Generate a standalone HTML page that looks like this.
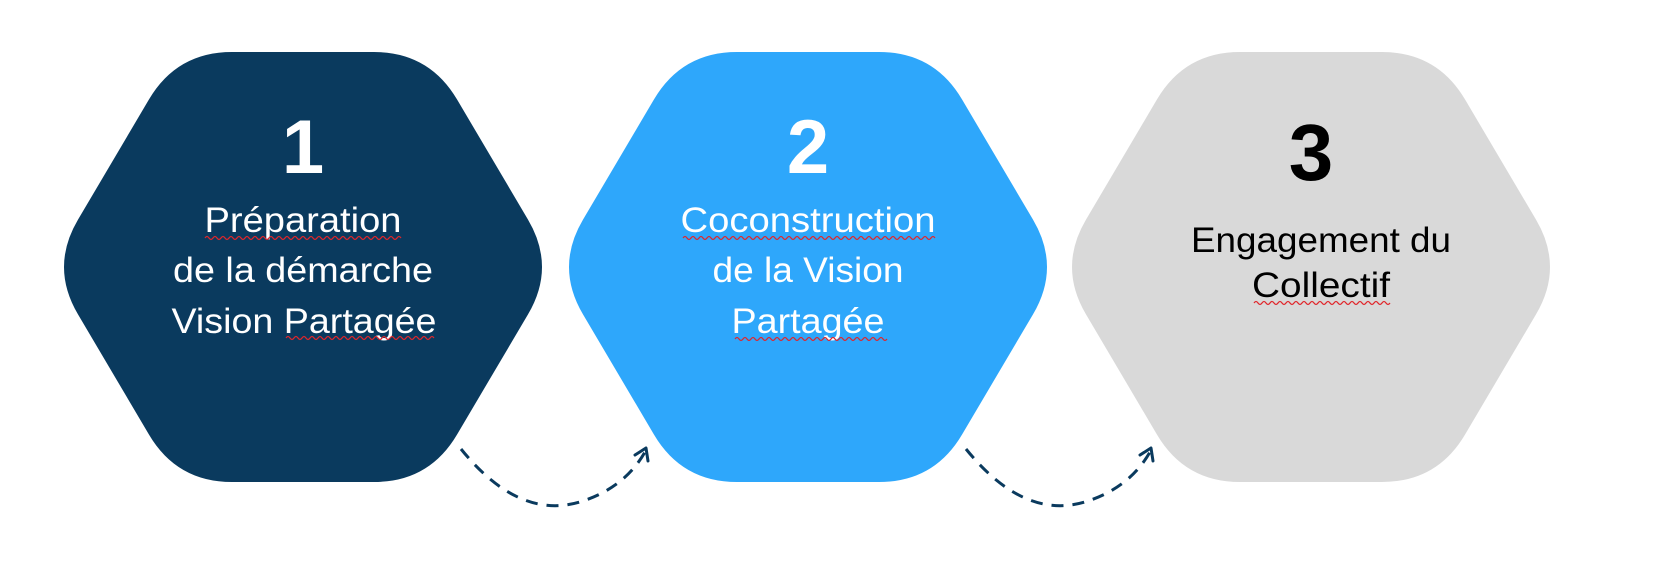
<!DOCTYPE html>
<html><head><meta charset="utf-8"><style>
html,body{margin:0;padding:0;background:#fff;}
svg{display:block;}
text{font-family:"Liberation Sans",sans-serif;}
</style></head><body>
<svg width="1654" height="586" viewBox="0 0 1654 586" xmlns="http://www.w3.org/2000/svg">
<defs>
<path id="hex" d="M232,52 L374,52 Q429,52 457,99.4 L528,219.6 Q556,267 528,314.4 L457,434.6 Q429,482 374,482 L232,482 Q177,482 149,434.6 L78,314.4 Q50,267 78,219.6 L149,99.4 Q177,52 232,52 Z"/>
<path id="wave" d="M0,0 l2,2 l2,-2" />
</defs>
<use href="#hex" fill="#0a3a5e"/>
<use href="#hex" fill="#2ea7fb" transform="translate(505,0)"/>
<use href="#hex" fill="#d9d9d9" transform="translate(1008,0)"/>

<g fill="#fff" text-anchor="middle">
<text x="303" y="173" font-size="76" font-weight="bold">1</text>
<text x="303" y="232" font-size="35" textLength="197" lengthAdjust="spacingAndGlyphs">Préparation</text>
<text x="303" y="282" font-size="35" textLength="260" lengthAdjust="spacingAndGlyphs">de la démarche</text>
<text x="304" y="333" font-size="35" textLength="265" lengthAdjust="spacingAndGlyphs">Vision Partagée</text>

<text x="808" y="173" font-size="76" font-weight="bold">2</text>
<text x="808" y="232" font-size="35" textLength="255" lengthAdjust="spacingAndGlyphs">Coconstruction</text>
<text x="808" y="282" font-size="35" textLength="191" lengthAdjust="spacingAndGlyphs">de la Vision</text>
<text x="808" y="333" font-size="35" textLength="153" lengthAdjust="spacingAndGlyphs">Partagée</text>
</g>
<g fill="#000" text-anchor="middle">
<text x="1311" y="180" font-size="80" font-weight="bold">3</text>
<text x="1321" y="252" font-size="35" textLength="260" lengthAdjust="spacingAndGlyphs">Engagement du</text>
<text x="1321" y="297" font-size="35" textLength="138" lengthAdjust="spacingAndGlyphs">Collectif</text>
</g>

<g stroke="#e0262b" stroke-width="1.2" fill="none">
<path d="M205,337 q2,-3 4,0 t4,0 t4,0 t4,0 t4,0 t4,0 t4,0 t4,0 t4,0 t4,0 t4,0 t4,0 t4,0 t4,0 t4,0 t4,0 t4,0 t4,0 t4,0 t4,0 t4,0 t4,0 t4,0 t4,0 t4,0 t4,0 t4,0 t4,0 t4,0 t4,0 t4,0 t4,0 t4,0 t4,0 t4,0 t4,0 t4,0 t4,0 t4,0 t4,0 t4,0 t4,0 t4,0 t4,0 t4,0 t4,0 t4,0 t4,0 t4,0" transform="translate(0,-99)"/>
<path d="M286,338 q2,-3 4,0 t4,0 t4,0 t4,0 t4,0 t4,0 t4,0 t4,0 t4,0 t4,0 t4,0 t4,0 t4,0 t4,0 t4,0 t4,0 t4,0 t4,0 t4,0 t4,0 t4,0 t4,0 t4,0 t4,0 t4,0 t4,0 t4,0 t4,0 t4,0 t4,0 t4,0 t4,0 t4,0 t4,0 t4,0 t4,0 t4,0"/>
<path d="M683,238 q2,-3 4,0 t4,0 t4,0 t4,0 t4,0 t4,0 t4,0 t4,0 t4,0 t4,0 t4,0 t4,0 t4,0 t4,0 t4,0 t4,0 t4,0 t4,0 t4,0 t4,0 t4,0 t4,0 t4,0 t4,0 t4,0 t4,0 t4,0 t4,0 t4,0 t4,0 t4,0 t4,0 t4,0 t4,0 t4,0 t4,0 t4,0 t4,0 t4,0 t4,0 t4,0 t4,0 t4,0 t4,0 t4,0 t4,0 t4,0 t4,0 t4,0 t4,0 t4,0 t4,0 t4,0 t4,0 t4,0 t4,0 t4,0 t4,0 t4,0 t4,0 t4,0 t4,0 t4,0"/>
<path d="M735,339 q2,-3 4,0 t4,0 t4,0 t4,0 t4,0 t4,0 t4,0 t4,0 t4,0 t4,0 t4,0 t4,0 t4,0 t4,0 t4,0 t4,0 t4,0 t4,0 t4,0 t4,0 t4,0 t4,0 t4,0 t4,0 t4,0 t4,0 t4,0 t4,0 t4,0 t4,0 t4,0 t4,0 t4,0 t4,0 t4,0 t4,0 t4,0 t4,0"/>
<path d="M1254,303 q2,-3 4,0 t4,0 t4,0 t4,0 t4,0 t4,0 t4,0 t4,0 t4,0 t4,0 t4,0 t4,0 t4,0 t4,0 t4,0 t4,0 t4,0 t4,0 t4,0 t4,0 t4,0 t4,0 t4,0 t4,0 t4,0 t4,0 t4,0 t4,0 t4,0 t4,0 t4,0 t4,0 t4,0 t4,0"/>
</g>

<g fill="none" stroke="#0a3a5e" stroke-width="3">
<path d="M461,449 Q520,522 583,501 Q625,487 645,452" stroke-dasharray="12,9"/>
<path d="M635,455 L646,448 L648,461" stroke-linecap="round" stroke-linejoin="round"/>
<path d="M966,449 Q1025,522 1088,501 Q1130,487 1150,452" stroke-dasharray="12,9"/>
<path d="M1140,455 L1151,448 L1153,461" stroke-linecap="round" stroke-linejoin="round"/>
</g>
</svg>
</body></html>
